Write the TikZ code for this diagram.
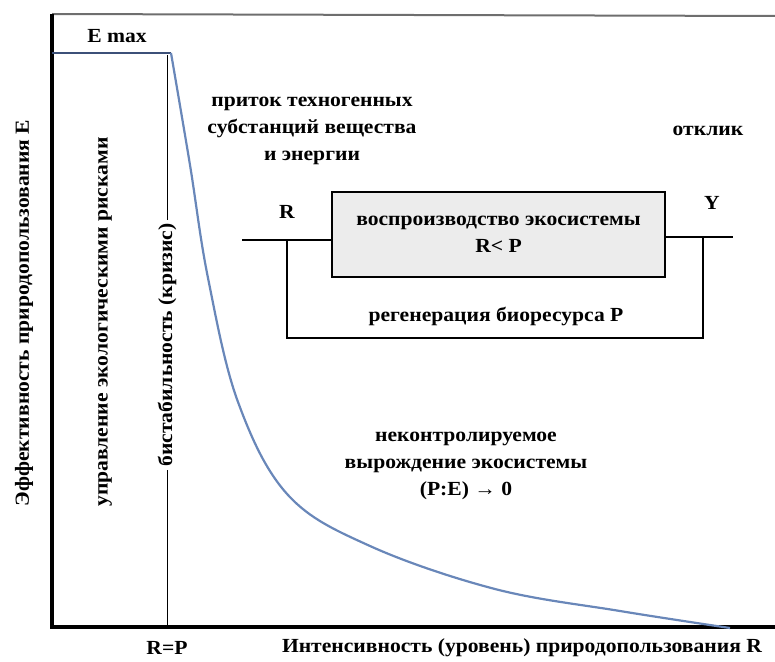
\documentclass[tikz,border=0pt]{standalone}
\usepackage{fontspec}
\setmainfont{Liberation Serif}[FakeStretch=1.08]
\definecolor{curvecol}{RGB}{105,135,185}
\definecolor{emaxcol}{RGB}{60,80,120}
\definecolor{boxfill}{RGB}{236,236,236}
\definecolor{topcol}{RGB}{110,110,110}
\begin{document}
\begin{tikzpicture}[x=1pt,y=-1pt,
  lbl/.style={font=\bfseries\fontsize{20}{27}\selectfont, inner sep=1pt, align=center},
  axis/.style={line width=4pt},
  wire/.style={line width=2.6pt},
  blockbox/.style={draw, line width=2.6pt, fill=boxfill, minimum width=333pt, minimum height=85pt}]
\useasboundingbox (0,0) rectangle (775,661);
% axes
\coordinate (ytop) at (52,14);
\coordinate (o) at (52,627);
\coordinate (xend) at (775,627);
\coordinate (tr) at (775,16);
\draw[topcol, line width=2pt] (ytop) -- (tr);
\draw[axis] (ytop) -- (o) -- (xend);
% E max
\coordinate (emaxL) at (52,53);
\coordinate (emaxR) at (171,53);
\draw[emaxcol, line width=2pt] (emaxL) -- (emaxR);
\node[lbl] (emax) at (117,36) {Е max};
% R=P line
\coordinate (rpTop) at (167,55);
\coordinate (rpBot) at (167,627);
\draw[line width=0.8pt] (rpTop) -- (rpBot);
\node[lbl, rotate=90, fill=white, inner sep=3pt] (bist) at (167,345) {бистабильность (кризис)};
% curve
\draw[curvecol, line width=2.2pt] plot[smooth, tension=0.6] coordinates {(171,53) (190,165) (208,278) (238,402) (288,495) (370,546) (495,589) (620,611) (730,628)};
% vertical labels
\node[lbl, rotate=90] (yaxis) at (24,313) {Эффективность природопользования Е};
\node[lbl, rotate=90] (risk) at (105,322) {управление экологическими рисками};
% texts
\node[lbl] (inflow) at (312,131) {приток техногенных\\субстанций вещества\\и энергии};
\node[lbl] (resp) at (708,131) {отклик};
\node[lbl] (degen) at (466,466) {неконтролируемое\\вырождение экосистемы\\(P:E) → 0};
\node[lbl] (rp) at (167,648) {R=P};
\node[lbl] (xaxis) at (522,648) {Интенсивность (уровень) природопользования R};
% block diagram
\node[blockbox, lbl] (box) at (498.5,234.5) {воспроизводство экосистемы\\R< P};
\coordinate (in) at (242,240);
\coordinate (j1) at (287,240);
\coordinate (bl) at (287,338);
\coordinate (br) at (703,338);
\coordinate (j2) at (703,237);
\coordinate (out) at (733,237);
\draw[wire] (in) -- (box.west |- in);
\draw[wire] (box.east |- out) -- (out);
\draw[wire] (j1) -- (bl) -- (br) -- (j2);
\node[lbl] (rlab) at (287,212) {R};
\node[lbl] (ylab) at (712,203) {Y};
\node[lbl] (regen) at (496,316) {регенерация биоресурса P};
\end{tikzpicture}
\end{document}
